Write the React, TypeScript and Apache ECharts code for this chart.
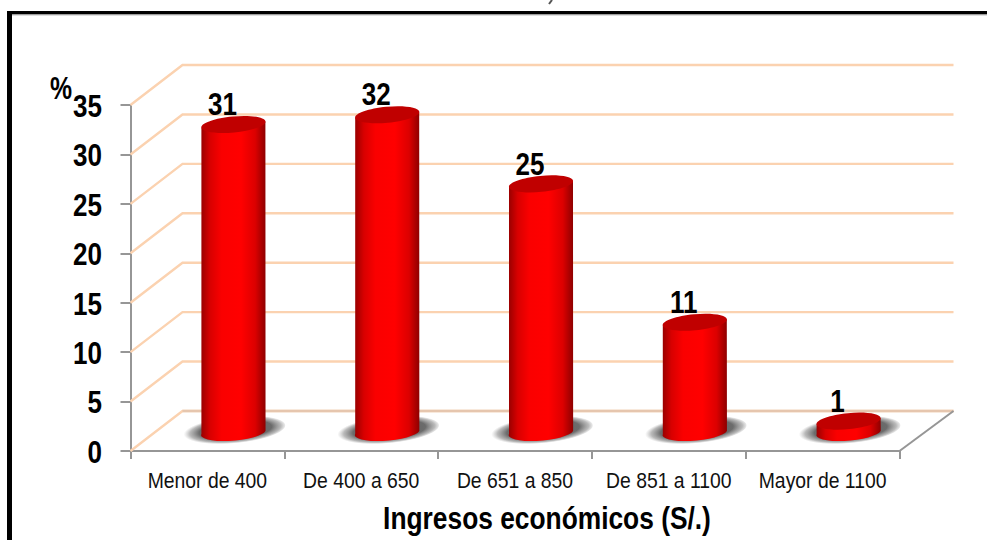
import React, { useEffect, useRef } from "react";
import * as echarts from "echarts";

const categories = ["Menor de 400", "De 400 a 650", "De 651 a 850", "De 851 a 1100", "Mayor de 1100"];
const percentages = [31, 32, 25, 11, 1];
const wallTicks = [0, 5, 10, 15, 20, 25, 30, 35];
const xTitle = "Ingresos económicos (S/.)";
const yTitle = "%";

const FONT = "'Liberation Sans', Arial, sans-serif";
const DEPTH_X = 52;
const DEPTH_Y = -40;
const WALL_END = 2;
const RX = 32;
const RY = 8;
const TILT = 3;
const TILT_ANGLE = (5.4 * Math.PI) / 180;
const WALL = "#fbd2b0";
const AXIS = "#969696";
const BOLD_SQUEEZE = 0.84;

// Peach wall and floor lines behind the plot, offset by the chart's depth.
function renderWall(params: any, api: any) {
  const value = api.value(0);
  const y = api.coord([0, value])[1];
  const left = params.coordSys.x;
  const right = left + params.coordSys.width;
  const backRight = right + DEPTH_X + WALL_END;
  const children: any[] = [
    {
      type: "polyline",
      shape: { points: [[left, y], [left + DEPTH_X, y + DEPTH_Y], [backRight, y + DEPTH_Y]] },
      style: { fill: "none", stroke: WALL, lineWidth: 2.4 },
    },
  ];
  if (value === 0) {
    children.push(
      {
        type: "line",
        shape: { x1: left + DEPTH_X, y1: y + DEPTH_Y, x2: backRight, y2: y + DEPTH_Y },
        style: { stroke: "#e6c6ae", lineWidth: 2.4 },
      },
      {
        type: "line",
        shape: { x1: right, y1: y, x2: backRight, y2: y + DEPTH_Y },
        style: { stroke: AXIS, lineWidth: 2 },
      },
    );
  }
  return { type: "group", children };
}

// Condensed tick numbers beside the value axis.
function renderYLabel(params: any, api: any) {
  const value = api.value(0);
  const y = api.coord([0, value])[1];
  return {
    type: "text",
    x: params.coordSys.x - 28.5,
    y: y + 1,
    scaleX: BOLD_SQUEEZE,
    style: {
      text: String(value),
      fill: "#000",
      font: `bold 31px ${FONT}`,
      align: "right",
      verticalAlign: "middle",
    },
  };
}

// Condensed category names under the floor.
function renderXLabel(_params: any, api: any) {
  const index = api.value(0);
  const [x, y] = api.coord([index, 0]);
  return {
    type: "text",
    x,
    y: y + 29,
    scaleX: 0.88,
    style: {
      text: categories[index],
      fill: "#111",
      font: `22px ${FONT}`,
      align: "center",
      verticalAlign: "middle",
    },
  };
}

// Soft floor shadow under each cylinder, a circle flattened into a tilted ellipse.
function renderShadow(_params: any, api: any) {
  const [x, y] = api.coord([api.value(0), 0]);
  return {
    type: "circle",
    x: x + DEPTH_X / 2,
    y: y + DEPTH_Y / 2 - 1,
    scaleY: 0.26,
    rotation: TILT_ANGLE,
    shape: { cx: 0, cy: 0, r: 52 },
    style: {
      fill: new echarts.graphic.RadialGradient(0.52, 0.5, 0.5, [
        { offset: 0, color: "rgba(90,90,90,1)" },
        { offset: 0.7, color: "rgba(100,100,100,0.95)" },
        { offset: 0.88, color: "rgba(130,130,130,0.55)" },
        { offset: 1, color: "rgba(160,160,160,0)" },
      ]),
    },
  };
}

// Cylinder standing halfway into the floor depth, with its value above it.
function renderCylinder(_params: any, api: any) {
  const category = api.value(0);
  const value = api.value(1);
  const base = api.coord([category, 0]);
  const top = api.coord([category, value]);
  const cx = base[0] + DEPTH_X / 2;
  const yb = base[1] + DEPTH_Y / 2;
  const yt = top[1] + DEPTH_Y / 2;
  const body =
    `M${cx - RX} ${yt + TILT}L${cx - RX} ${yb + TILT}` +
    `A${RX} ${RY} -5.4 0 0 ${cx + RX} ${yb - TILT}L${cx + RX} ${yt - TILT}Z`;
  return {
    type: "group",
    children: [
      {
        type: "path",
        shape: { pathData: body },
        style: {
          fill: new echarts.graphic.LinearGradient(0, 0, 1, 0, [
            { offset: 0, color: "#980000" },
            { offset: 0.14, color: "#d80000" },
            { offset: 0.32, color: "#fa0000" },
            { offset: 0.62, color: "#ff0000" },
            { offset: 0.84, color: "#dc0000" },
            { offset: 1, color: "#8e0000" },
          ]),
        },
      },
      {
        type: "ellipse",
        x: cx,
        y: yt,
        rotation: TILT_ANGLE,
        shape: { cx: 0, cy: 0, rx: RX + 0.2, ry: RY },
        style: { fill: "#c00000" },
      },
      {
        type: "text",
        x: cx - 11,
        y: yt - 20,
        scaleX: BOLD_SQUEEZE,
        style: {
          text: String(value),
          fill: "#000",
          font: `bold 31px ${FONT}`,
          align: "center",
          verticalAlign: "middle",
        },
      },
    ],
  };
}

export default function App() {
  const ref = useRef<HTMLDivElement>(null);

  useEffect(() => {
    document.body.style.margin = "0";
    const chart = echarts.init(ref.current!, null, { renderer: "svg" });
    chart.setOption({
      animation: false,
      backgroundColor: "#fff",
      graphic: [
        { type: "rect", shape: { x: 7, y: 11, width: 980, height: 3.5 }, style: { fill: "#000" } },
        { type: "rect", shape: { x: 12, y: 14.5, width: 975, height: 1 }, style: { fill: "#bdbdbd" } },
        { type: "rect", shape: { x: 7, y: 11, width: 5, height: 529 }, style: { fill: "#000" } },
        {
          type: "line",
          shape: { x1: 552, y1: 0, x2: 549, y2: 4 },
          style: { stroke: "#555", lineWidth: 2 },
        },
        {
          type: "text",
          x: 547,
          y: 518,
          scaleX: 0.85,
          style: {
            text: xTitle,
            fill: "#000",
            font: `bold 31px ${FONT}`,
            align: "center",
            verticalAlign: "middle",
          },
        },
        {
          type: "text",
          x: 61,
          y: 89,
          scaleX: 0.8,
          style: {
            text: yTitle,
            fill: "#000",
            font: `bold 31px ${FONT}`,
            align: "center",
            verticalAlign: "middle",
          },
        },
      ],
      grid: { left: 130.5, top: 105, width: 769, height: 346, outerBoundsMode: "none" },
      xAxis: {
        type: "category",
        data: categories,
        boundaryGap: true,
        axisLine: { lineStyle: { color: AXIS, width: 2 } },
        axisTick: { show: true, interval: 0, alignWithLabel: false, length: 8, lineStyle: { color: AXIS, width: 2 } },
        axisLabel: { show: false },
      },
      yAxis: {
        type: "value",
        min: 0,
        max: 35,
        interval: 5,
        axisLine: { show: true, lineStyle: { color: AXIS, width: 2 } },
        axisTick: { show: true, length: 10, lineStyle: { color: AXIS, width: 2 } },
        splitLine: { show: false },
        axisLabel: { show: false },
      },
      series: [
        { type: "custom", z: 1, renderItem: renderWall, data: wallTicks.map((t) => [t]), silent: true },
        { type: "custom", z: 4, renderItem: renderYLabel, data: wallTicks.map((t) => [t]), silent: true },
        { type: "custom", z: 4, renderItem: renderXLabel, data: categories.map((_, i) => [i]), silent: true },
        {
          type: "custom",
          z: 2,
          renderItem: renderShadow,
          data: percentages.map((v, i) => [i, v]),
          silent: true,
        },
        {
          type: "custom",
          z: 3,
          renderItem: renderCylinder,
          data: percentages.map((v, i) => [i, v]),
          encode: { x: 0, y: 1 },
          silent: true,
        },
      ],
    });
    return () => chart.dispose();
  }, []);

  return <div ref={ref} style={{ width: 987, height: 540 }} />;
}
